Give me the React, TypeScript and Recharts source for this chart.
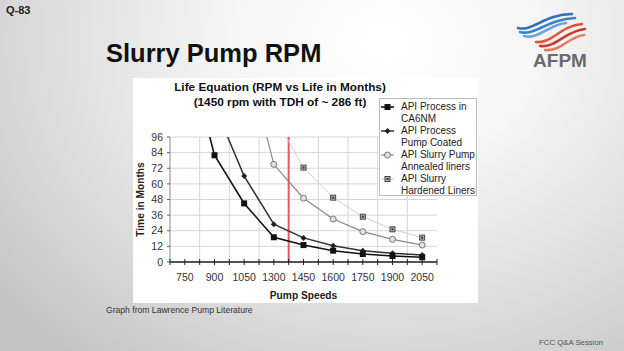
import React from 'react';
import {
  LineChart,
  Line,
  XAxis,
  YAxis,
  CartesianGrid,
  ReferenceLine,
  Legend,
} from 'recharts';

// pump speeds (rpm), one category each
const speeds = [750, 900, 1050, 1300, 1450, 1600, 1750, 1900, 2050];

// life in months per series (values above 96 run off the top of the plot)
const ca6nm = [170, 82, 45, 19, 13, 8.7, 6.1, 4.6, 3.6];
const coated = [null, 120, 66, 29, 18.5, 12.5, 8.7, 6.7, 5.4];
const annealed = [null, null, 165, 75, 49, 33, 23.3, 17.4, 13];
const hardened = [null, null, null, 113, 72.5, 49.4, 34.8, 25.1, 18.7];

const yTicks = [0, 12, 24, 36, 48, 60, 72, 84, 96];

// red marker sits between the 1300 and 1450 categories
const markerPosition = 3.5;

const FONT = '"Liberation Sans", Arial, sans-serif';
const Y_MAX = 96;

const data = speeds.map((speed, i) => ({
  idx: i,
  speed,
  ca6nm: ca6nm[i],
  coated: coated[i],
  annealed: annealed[i],
  hardened: hardened[i],
}));

// category centres plus the boundaries between them
const xTicks = speeds.flatMap((_, i) => (i === 0 ? [i - 0.5, i, i + 0.5] : [i, i + 0.5]));
const boundaries = speeds.slice(0, -1).map((_, i) => i + 0.5);

type Kind = 'square' | 'diamond' | 'circle' | 'hard';

const Marker = ({ kind, cx, cy }: { kind: Kind; cx: number; cy: number }) => {
  if (kind === 'square') {
    return <rect x={cx - 3} y={cy - 3} width={6} height={6} fill="#111" />;
  }
  if (kind === 'diamond') {
    return (
      <polygon
        points={`${cx},${cy - 3} ${cx + 3},${cy} ${cx},${cy + 3} ${cx - 3},${cy}`}
        fill="#222"
      />
    );
  }
  if (kind === 'circle') {
    return <circle cx={cx} cy={cy} r={3} fill="#e2e2e2" stroke="#777" strokeWidth={1} />;
  }
  return (
    <g>
      <rect x={cx - 2.5} y={cy - 2.5} width={5} height={5} fill="#b5b5b5" stroke="#444" strokeWidth={1} />
      <rect x={cx - 1} y={cy - 1} width={2} height={2} fill="#333" />
    </g>
  );
};

const makeDot = (kind: Kind) => (p: any) => {
  const key = `dot-${kind}-${p.index}`;
  if (p.value == null || p.value > Y_MAX || p.cx == null || p.cy == null) return <g key={key} />;
  return (
    <g key={key}>
      <Marker kind={kind} cx={p.cx} cy={p.cy} />
    </g>
  );
};

const series = [
  { key: 'ca6nm', name: 'API Process in\nCA6NM', color: '#111', width: 1.6, kind: 'square' as Kind },
  { key: 'coated', name: 'API Process\nPump Coated', color: '#333', width: 1.5, kind: 'diamond' as Kind },
  { key: 'annealed', name: 'API Slurry Pump\nAnnealed liners', color: '#8a8a8a', width: 1.2, kind: 'circle' as Kind },
  { key: 'hardened', name: 'API Slurry\nHardened Liners', color: '#cfcfcf', width: 1, kind: 'hard' as Kind },
];

const XTick = (props: any) => {
  const { x, y, payload } = props;
  const v = payload.value as number;
  const isCat = Number.isInteger(v);
  return (
    <g>
      <line x1={x} x2={x} y1={y - 3} y2={y + 3} stroke="#222" strokeWidth={1} />
      {isCat && (
        <text x={x} y={y + 19} textAnchor="middle" fontSize={10.5} fill="#333" fontFamily={FONT}>
          {speeds[v]}
        </text>
      )}
    </g>
  );
};

const renderLegend = () => (
  <div
    style={{
      width: 98,
      height: 98,
      boxSizing: 'border-box',
      background: '#fff',
      border: '1px solid #bdbdbd',
      paddingTop: 2,
      fontFamily: FONT,
      fontSize: 10,
      lineHeight: '12px',
      color: '#222',
    }}
  >
    {series.map((s) => (
      <div key={s.key} style={{ display: 'flex', alignItems: 'flex-start' }}>
        <svg width={21} height={12} style={{ flex: 'none' }}>
          <line x1={1} x2={14} y1={6} y2={6} stroke={s.color} strokeWidth={s.width} />
          <Marker kind={s.kind} cx={7.5} cy={6} />
        </svg>
        <div style={{ whiteSpace: 'pre-line' }}>{s.name}</div>
      </div>
    ))}
  </div>
);

const YLabel = (p: any) => {
  const vb = p.viewBox || p;
  const cx = 11;
  const cy = vb.y + vb.height / 2;
  return (
    <text
      transform={`translate(${cx},${cy}) rotate(-90)`}
      textAnchor="middle"
      fontSize={10.2}
      fontWeight="bold"
      fill="#222"
      fontFamily={FONT}
    >
      Time in Months
    </text>
  );
};

const XLabel = (p: any) => {
  const vb = p.viewBox || p;
  return (
    <text
      x={vb.x + vb.width / 2}
      y={221}
      textAnchor="middle"
      fontSize={10.2}
      fontWeight="bold"
      fill="#222"
      fontFamily={FONT}
    >
      Pump Speeds
    </text>
  );
};

const Logo = () => (
  <svg width={80} height={75} style={{ position: 'absolute', left: 512, top: 5 }} viewBox="512 5 80 75">
    <g fill="none" strokeLinecap="round" strokeWidth={2.6}>
      <path d="M518 28 C532 32 545 14 572 14" stroke="#2e6fbd" />
      <path d="M520 32 C535 36 548 19 575 18" stroke="#3b82c9" />
      <path d="M524 36 C538 40 550 24 566 23" stroke="#6aa6dc" />
      <path d="M536 42 C552 44 560 26 582 24" stroke="#e0543c" />
      <path d="M540 46 C556 48 565 31 585 29" stroke="#cf3b2b" />
      <path d="M545 50 C560 52 570 36 584 35" stroke="#e87a5e" />
    </g>
    <text x={560} y={67} textAnchor="middle" fontSize={19} fontWeight="bold" fill="#6b6b6b" fontFamily={FONT}>
      AFPM
    </text>
  </svg>
);

export default function App() {
  return (
    <div
      style={{
        position: 'absolute',
        left: 0,
        top: 0,
        width: 624,
        height: 351,
        overflow: 'hidden',
        fontFamily: FONT,
        background:
          'radial-gradient(ellipse 80% 115% at 62% 12%, #ffffff 0%, #f6f6f6 30%, #dcdcdc 70%, #c4c4c4 100%)',
      }}
    >
      <div style={{ position: 'absolute', left: 6, top: 4, fontSize: 11, fontWeight: 'bold', color: '#222' }}>
        Q-83
      </div>
      <div
        style={{
          position: 'absolute',
          left: 106,
          top: 41,
          fontSize: 25.5,
          lineHeight: '25px',
          fontWeight: 'bold',
          color: '#111',
          whiteSpace: 'nowrap',
        }}
      >
        Slurry Pump RPM
      </div>
      <Logo />

      <div style={{ position: 'absolute', left: 133, top: 78, width: 345, height: 225, background: '#fff' }}>
        <div
          style={{
            position: 'absolute',
            left: 0,
            width: 294,
            top: 2,
            textAlign: 'center',
            fontSize: 11.8,
            lineHeight: '15px',
            fontWeight: 'bold',
            color: '#111',
            whiteSpace: 'nowrap',
          }}
        >
          Life Equation (RPM vs Life in Months)
          <br />
          (1450 rpm with TDH of ~ 286 ft)
        </div>
        <LineChart
          width={345}
          height={225}
          data={data}
          margin={{ top: 59, right: 41, left: 0, bottom: 0 }}
          style={{ position: 'absolute', left: 0, top: 0 }}
        >
          <CartesianGrid stroke="#d6d6d6" strokeWidth={1} verticalValues={boundaries} />
          <XAxis
            dataKey="idx"
            type="number"
            domain={[-0.5, speeds.length - 0.5]}
            ticks={xTicks}
            interval={0}
            height={41}
            tickSize={0}
            tickMargin={0}
            tickLine={false}
            tick={<XTick />}
            axisLine={{ stroke: '#222', strokeWidth: 1.5 }}
            label={XLabel}
          />
          <YAxis
            type="number"
            domain={[0, Y_MAX]}
            ticks={yTicks}
            interval={0}
            allowDataOverflow
            width={37}
            tickSize={3}
            tickMargin={4}
            tick={{ fontSize: 10.5, fill: '#333', fontFamily: FONT }}
            tickLine={{ stroke: '#666' }}
            axisLine={{ stroke: '#888' }}
            label={YLabel}
          />
          <ReferenceLine x={markerPosition} stroke="#e4585e" strokeWidth={2} />
          {series
            .slice()
            .reverse()
            .map((s) => (
              <Line
                key={s.key}
                type="linear"
                dataKey={s.key}
                name={s.name}
                stroke={s.color}
                strokeWidth={s.width}
                dot={makeDot(s.kind)}
                activeDot={false}
                isAnimationActive={false}
              />
            ))}
          <Legend
            layout="vertical"
            align="center"
            verticalAlign="middle"
            content={renderLegend}
            wrapperStyle={{ left: 246, top: 20, width: 98, height: 98 }}
          />
        </LineChart>
      </div>

      <div style={{ position: 'absolute', left: 106, top: 305, fontSize: 8.6, color: '#333', whiteSpace: 'nowrap' }}>
        Graph from Lawrence Pump Literature
      </div>
      <div style={{ position: 'absolute', left: 539, top: 338, fontSize: 7.8, color: '#555', whiteSpace: 'nowrap' }}>
        FCC Q&amp;A Session
      </div>
    </div>
  );
}
